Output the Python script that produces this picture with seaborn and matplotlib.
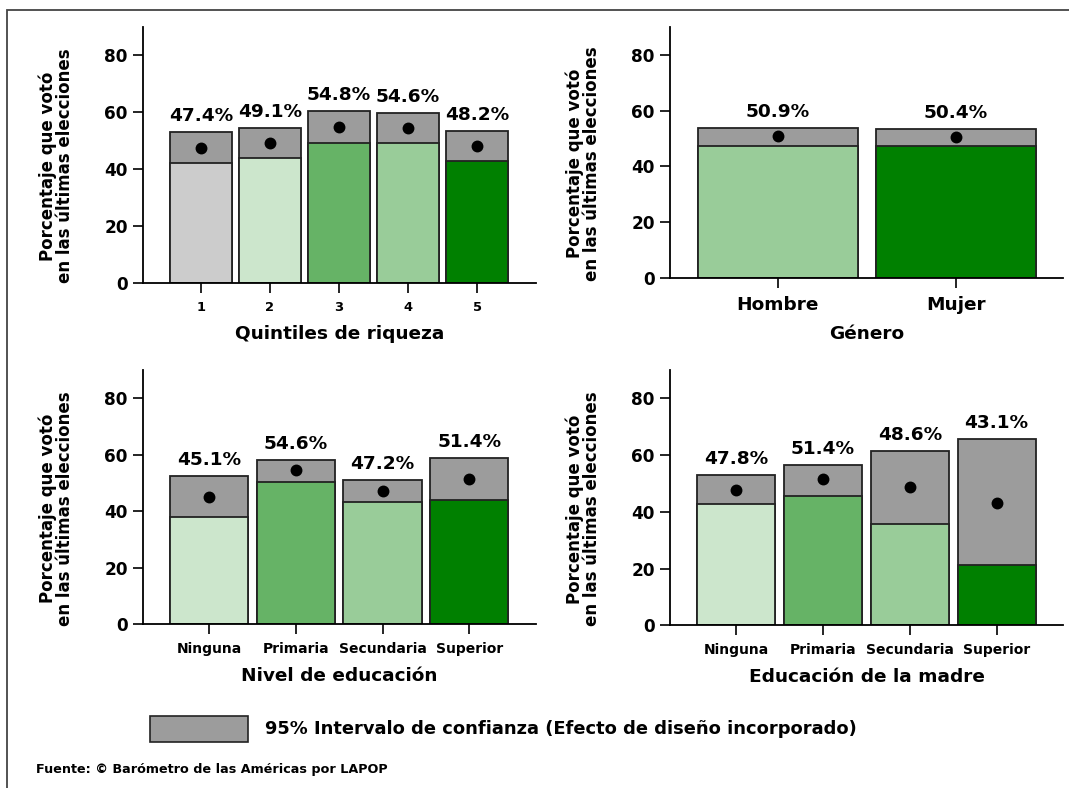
import matplotlib
matplotlib.use("Agg")
import matplotlib.pyplot as plt
import matplotlib.patches as mpatches
from matplotlib import font_manager
import seaborn as sns
import pandas as pd

# ---------------- data ----------------
wealth_cats = ["1", "2", "3", "4", "5"]
wealth_mean = [47.4, 49.1, 54.8, 54.6, 48.2]
wealth_low = [42.2, 43.9, 49.2, 49.0, 42.7]
wealth_high = [53.1, 54.3, 60.4, 59.6, 53.5]

gender_cats = ["Hombre", "Mujer"]
gender_mean = [50.9, 50.4]
gender_low = [47.3, 47.3]
gender_high = [53.9, 53.5]

edu_cats = ["Ninguna", "Primaria", "Secundaria", "Superior"]
edu_mean = [45.1, 54.6, 47.2, 51.4]
edu_low = [37.9, 50.5, 43.3, 43.9]
edu_high = [52.3, 58.1, 51.0, 58.8]

medu_cats = ["Ninguna", "Primaria", "Secundaria", "Superior"]
medu_mean = [47.8, 51.4, 48.6, 43.1]
medu_low = [42.9, 45.7, 35.8, 21.2]
medu_high = [52.9, 56.6, 61.4, 65.5]

wealth_colors = ["#cccccc", "#cce6cc", "#66b366", "#99cc99", "#008000"]
gender_colors = ["#99cc99", "#008000"]
edu_colors = ["#cce6cc", "#66b366", "#99cc99", "#008000"]

ylabel = "Porcentaje que votó\nen las últimas elecciones"
ci_label = "95% Intervalo de confianza (Efecto de diseño incorporado)"
source = "Fuente: © Barómetro de las Américas por LAPOP"
CI_GREY = "#9c9c9c"

# ---------------- style ----------------
sns.set_style("ticks")
plt.rcParams["font.family"] = ["DejaVu Sans"]
plt.rcParams["font.weight"] = "bold"
plt.rcParams["text.color"] = "black"
plt.rcParams["axes.labelcolor"] = "black"
plt.rcParams["xtick.color"] = "black"
plt.rcParams["ytick.color"] = "black"

installed = {f.name for f in font_manager.fontManager.ttflist}
if "Liberation Sans Narrow" in installed:
    foot_family, foot_size = ["Liberation Sans Narrow", "DejaVu Sans"], 12.3
else:
    foot_family, foot_size = ["DejaVu Sans"], 9.2

W, H = 1069, 788
fig = plt.figure(figsize=(W / 100, H / 100), dpi=100)


def px_axes(l, b, r, t):
    return fig.add_axes([l / W, 1 - b / H, (r - l) / W, (b - t) / H])


def panel(ax, cats, mean, low, high, colors, xlabel, xlim, ticksize):
    df = pd.DataFrame({"cat": cats, "mean": mean, "low": low, "high": high})
    sns.barplot(data=df, x="cat", y="high", color=CI_GREY, width=0.9,
                edgecolor="#222222", linewidth=1.3, ax=ax, order=cats,
                saturation=1)
    sns.barplot(data=df, x="cat", y="low", hue="cat", palette=colors,
                width=0.9, edgecolor="#222222", linewidth=1.3, ax=ax,
                order=cats, hue_order=cats, legend=False, saturation=1)
    sns.pointplot(data=df, x="cat", y="mean", order=cats, color="black",
                  linestyle="none", marker="o", markersize=6.5, ax=ax)
    for i, (m, h) in enumerate(zip(mean, high)):
        ax.annotate(f"{m:.1f}%", xy=(i, h), xytext=(0, 8),
                    textcoords="offset points", ha="center", va="baseline",
                    fontsize=13.3, fontweight="bold", color="black")
    ax.set_ylim(0, 90)
    ax.set_xlim(*xlim)
    ax.set_yticks([0, 20, 40, 60, 80])
    sns.despine(ax=ax)
    for s in ("left", "bottom"):
        ax.spines[s].set_linewidth(1.3)
        ax.spines[s].set_color("black")
    ax.tick_params(axis="y", length=7, width=1.2, pad=4, labelsize=12.2,
                   colors="black")
    ax.tick_params(axis="x", length=7, width=1.2, pad=6, labelsize=ticksize,
                   colors="black")
    for lab in ax.get_xticklabels() + ax.get_yticklabels():
        lab.set_fontweight("bold")
    ax.set_xlabel(xlabel, fontsize=13.3, fontweight="bold", labelpad=8,
                  color="black")
    ax.set_ylabel(ylabel, fontsize=12, fontweight="bold", linespacing=0.92,
                  color="black")
    ax.yaxis.set_label_coords(-0.175, 0.456)
    ax.set_facecolor("white")


ax1 = px_axes(143, 282.7, 535.7, 26.9)
panel(ax1, wealth_cats, wealth_mean, wealth_low, wealth_high, wealth_colors,
      "Quintiles de riqueza", (-0.84, 4.85), 9.4)

ax2 = px_axes(670, 277.7, 1063, 27.2)
panel(ax2, gender_cats, gender_mean, gender_low, gender_high, gender_colors,
      "Género", (-0.605, 1.603), 13.3)

ax3 = px_axes(143, 624.3, 535.7, 369.9)
panel(ax3, edu_cats, edu_mean, edu_low, edu_high, edu_colors,
      "Nivel de educación", (-0.76, 3.765), 10)

ax4 = px_axes(670, 625.3, 1063, 369.9)
panel(ax4, medu_cats, medu_mean, medu_low, medu_high, edu_colors,
      "Educación de la madre", (-0.765, 3.765), 10)

# legend box and text
fig.patches.append(mpatches.Rectangle((150 / W, 1 - 742 / H), 98 / W, 26 / H,
                                      transform=fig.transFigure,
                                      facecolor=CI_GREY, edgecolor="#222222",
                                      linewidth=1.2))
fig.text(265 / W, 1 - 729 / H, ci_label, ha="left", va="center",
         fontsize=12.9, fontweight="bold", color="black")
fig.text(36 / W, 1 - 770 / H, source, ha="left", va="center",
         fontsize=foot_size, fontweight="bold", color="black",
         family=foot_family)

# outer frame (left and top edges visible, others beyond the canvas)
top = 1 - 10 / H
fig.patches.append(mpatches.Rectangle((7 / W, -0.2), 1.2, top + 0.2,
                                      transform=fig.transFigure,
                                      facecolor="none", edgecolor="#444444",
                                      linewidth=1.3, clip_on=False))

fig.savefig("out.png", dpi=100)
